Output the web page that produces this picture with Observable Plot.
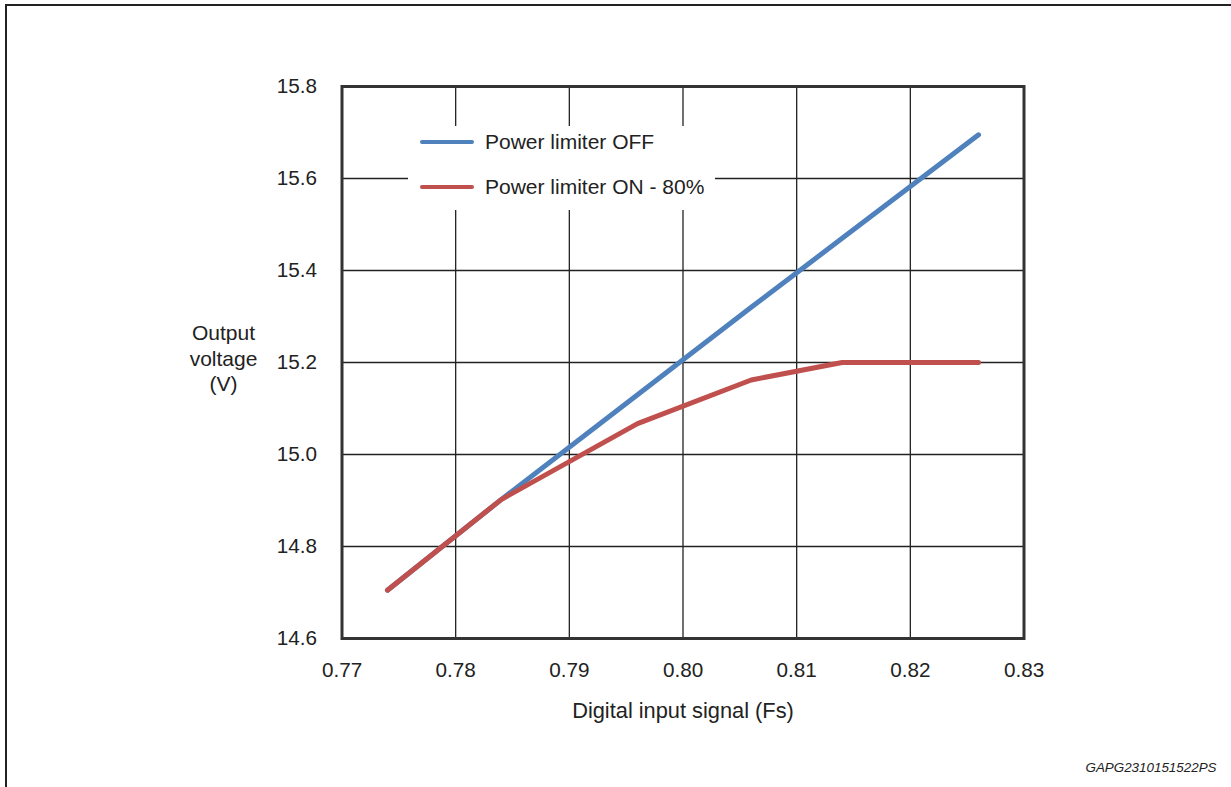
<!DOCTYPE html>
<html>
<head>
<meta charset="utf-8">
<script src="https://cdn.jsdelivr.net/npm/d3@7"></script>
<script src="https://cdn.jsdelivr.net/npm/@observablehq/plot@0.6"></script>
<style>
  html, body { margin: 0; padding: 0; background: #fff; overflow: hidden; }
  #wrap { position: relative; width: 1231px; height: 787px; font-family: "Liberation Sans", Arial, sans-serif; }
  #outer { position: absolute; left: 5px; top: 4px; width: 1240px; height: 800px;
           border-left: 2px solid #222; border-top: 2px solid #222; box-sizing: border-box; pointer-events: none; }
  #legend { position: absolute; left: 408px; top: 126px; width: 307px; height: 84px; background: #fff; }
  .item { position: absolute; left: 12px; height: 24px; display: flex; align-items: center; }
  .swatch { width: 54px; height: 4.8px; border-radius: 2.5px; margin-right: 11px; }
  .label { font-size: 21px; color: #222; white-space: nowrap; }
  #chart svg { position: absolute; left: 0; top: 0; }
</style>
</head>
<body>
<div id="wrap">
  <div id="chart"></div>
  <div id="legend"></div>
  <div id="outer"></div>
</div>
<script>
// ---- data ----
const xValues = [0.774, 0.784, 0.796, 0.806, 0.814, 0.826];
const offValues = [14.705, 14.902, 15.130, 15.320, 15.470, 15.695];
const onValues = [14.705, 14.902, 15.067, 15.162, 15.200, 15.200];
const seriesNames = ["Power limiter OFF", "Power limiter ON - 80%"];
const seriesColors = ["#4F81BD", "#C0504D"];
const xTicks = [0.77, 0.78, 0.79, 0.80, 0.81, 0.82, 0.83];
const yTicks = [14.6, 14.8, 15.0, 15.2, 15.4, 15.6, 15.8];
const xLabel = "Digital input signal (Fs)";
const yLabel = "Output\nvoltage\n(V)";
const footer = "GAPG2310151522PS";

const rows = [];
xValues.forEach((x, i) => {
  rows.push({x, y: offValues[i], series: seriesNames[0]});
  rows.push({x, y: onValues[i], series: seriesNames[1]});
});

const chart = Plot.plot({
  width: 1231,
  height: 787,
  marginLeft: 341.5,
  marginRight: 207.5,
  marginTop: 86,
  marginBottom: 149,
  style: { fontFamily: "Liberation Sans, Arial, sans-serif", fontSize: "20.7px", color: "#222", background: "transparent" },
  x: { domain: [0.77, 0.83], ticks: xTicks, tickFormat: d3.format(".2f") },
  y: { domain: [14.6, 15.8], ticks: yTicks, tickFormat: d3.format(".1f") },
  color: { domain: seriesNames, range: seriesColors },
  marks: [
    Plot.gridX(xTicks, { stroke: "#222", strokeOpacity: 1, strokeWidth: 1.3 }),
    Plot.gridY(yTicks, { stroke: "#222", strokeOpacity: 1, strokeWidth: 1.3 }),
    Plot.axisX(xTicks, { tickSize: 0, tickPadding: 24, label: null, tickFormat: d3.format(".2f") }),
    Plot.axisY(yTicks, { tickSize: 0, tickPadding: 25, label: null, tickFormat: d3.format(".1f") }),
    Plot.line(rows, { x: "x", y: "y", z: "series", stroke: "series", strokeWidth: 5,
                      strokeLinecap: "round", strokeLinejoin: "round" }),
    Plot.frame({ stroke: "#333", strokeWidth: 3 }),
    Plot.text([xLabel], { frameAnchor: "bottom", dy: 73, lineAnchor: "middle", fill: "#222", fontSize: 21.8 }),
    Plot.text([yLabel], { frameAnchor: "left", dx: -118.5, dy: -5, textAnchor: "middle",
                          lineAnchor: "middle", lineHeight: 1.2, fill: "#222", fontSize: 21 }),
    Plot.text([footer], { frameAnchor: "bottom-right", dx: 192.5, dy: 129, textAnchor: "end",
                          lineAnchor: "middle", fontSize: 13.4, fontStyle: "italic", fill: "#222" })
  ]
});
document.getElementById("chart").appendChild(chart);

// legend (HTML, covers grid lines like the original)
const legend = document.getElementById("legend");
const legendTops = [4, 49];
seriesNames.forEach((name, i) => {
  const item = document.createElement("div");
  item.className = "item";
  item.style.top = legendTops[i] + "px";
  const sw = document.createElement("div");
  sw.className = "swatch";
  sw.style.background = seriesColors[i];
  const lb = document.createElement("span");
  lb.className = "label";
  lb.textContent = name;
  item.appendChild(sw);
  item.appendChild(lb);
  legend.appendChild(item);
});
</script>
</body>
</html>
